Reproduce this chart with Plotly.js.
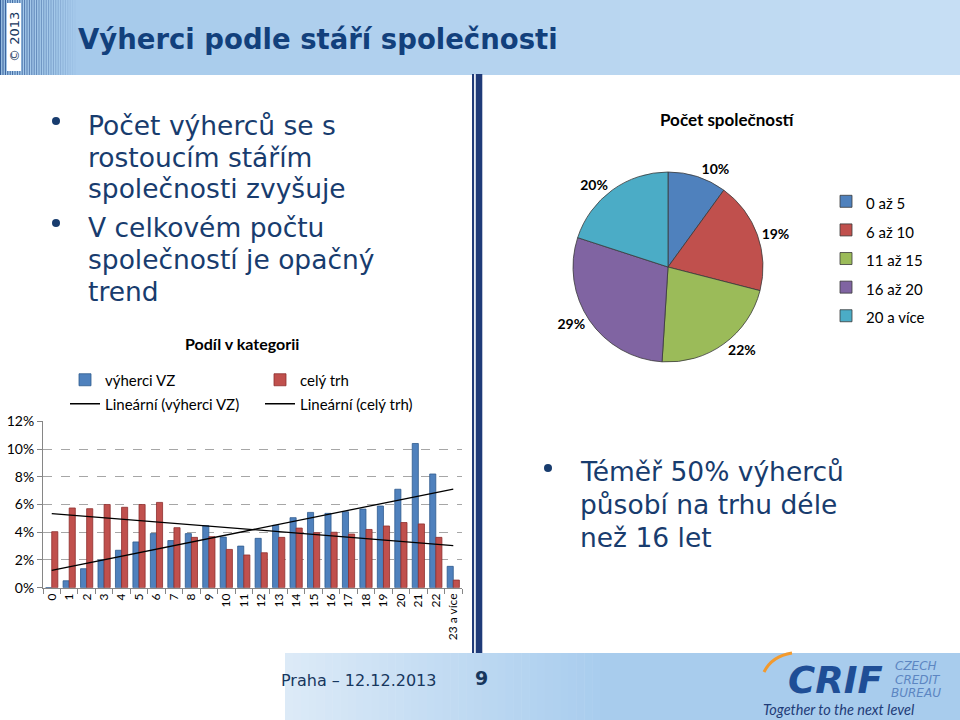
<!DOCTYPE html>
<html>
<head>
<meta charset="utf-8">
<script src="https://cdn.plot.ly/plotly-3.0.1.min.js"></script>
<style>
html,body{margin:0;padding:0;background:#fff;}
#chart{width:960px;height:720px;}
</style>
</head>
<body>
<div id="chart"></div>
<script>
// ---------- data ----------
const categories = ['0','1','2','3','4','5','6','7','8','9','10','11','12','13','14','15','16','17','18','19','20','21','22','23 a více'];
const winnersVZ = [0.000,0.005,0.0137,0.020,0.027,0.033,0.039,0.034,0.039,0.0447,0.0365,0.030,0.0356,0.045,0.0505,0.0543,0.0536,0.0548,0.0567,0.0589,0.071,0.104,0.082,0.0154];
const wholeMarket = [0.0404,0.0575,0.057,0.060,0.058,0.060,0.0615,0.0433,0.0363,0.0368,0.0276,0.0236,0.0252,0.0363,0.043,0.0397,0.040,0.0387,0.042,0.0445,0.047,0.046,0.0363,0.0055];
const barSeriesNames = ['výherci VZ','celý trh'];
const trendNames = ['Lineární (výherci VZ)','Lineární (celý trh)'];
const pieLabels = ['0 až 5','6 až 10','11 až 15','16 až 20','20 a více'];
const pieValues = [10,19,22,29,20];

// ---------- helpers ----------
const W = 960, H = 720;
const X = p => p / W;
const Y = p => 1 - p / H;
function hex2rgb(h){h=h.replace('#','');return [parseInt(h.substr(0,2),16),parseInt(h.substr(2,2),16),parseInt(h.substr(4,2),16)];}
function lerpColor(a,b,t){const A=hex2rgb(a),B=hex2rgb(b);return 'rgb('+A.map((v,i)=>Math.round(v+(B[i]-v)*t)).join(',')+')';}
function rect(x0,y0,x1,y1,color){return {type:'rect',xref:'paper',yref:'paper',x0:X(x0),x1:X(x1),y0:Y(y1),y1:Y(y0),fillcolor:color,line:{width:0},layer:'below'};}
function linearTrend(vals){
  const n=vals.length;let sx=0,sy=0,sxx=0,sxy=0;
  vals.forEach((v,i)=>{sx+=i;sy+=v;sxx+=i*i;sxy+=i*v;});
  const b=(n*sxy-sx*sy)/(n*sxx-sx*sx);const a=(sy-b*sx)/n;
  return vals.map((_,i)=>a+b*i);
}
function txt(text,x,y,size,opts){
  return Object.assign({text:text,x:X(x),y:Y(y),xref:'paper',yref:'paper',showarrow:false,
    xanchor:'left',yanchor:'middle',font:{family:'DejaVu Sans',size:size,color:'#183C6E'}},opts||{});
}

const navy = '#183C6E';
const shapes = [];
// header band gradient
const HN = 48;
for(let i=0;i<HN;i++){
  const x0=i*W/HN, x1=(i+1)*W/HN+0.5;
  shapes.push(rect(x0,0,x1,75,lerpColor('#A3C8EA','#C6DEF4',i/(HN-1))));
}
// left stripes in header
for(let x=0.6;x<76;x+=2.4){
  const a = Math.max(0,0.9*(1-x/78));
  shapes.push({type:'line',xref:'paper',yref:'paper',x0:X(x),x1:X(x),y0:Y(75),y1:Y(0),line:{color:'rgba(28,70,135,'+a.toFixed(3)+')',width:1},layer:'below'});
}
// copyright box
shapes.push(Object.assign(rect(7,3,21,71,'#FFFFFF'),{layer:'above'}));
// footer gradient
shapes.push(rect(0,653,285,720,'#FFFFFF'));
const FN = 40;
for(let i=0;i<FN;i++){
  const x0=285+i*(600-285)/FN, x1=285+(i+1)*(600-285)/FN+0.5;
  shapes.push(rect(x0,653,x1,720,lerpColor('#DCEAF7','#A9CDEE',i/(FN-1))));
}
shapes.push(rect(600,653,960,720,'#A8CCED'));
// vertical divider
shapes.push(rect(472,74,474.2,653,'#1F3A78'));
shapes.push(rect(474.2,74,475.8,653,'#E8EEF8'));
shapes.push(rect(475.8,74,482.3,653,'#1F3A78'));
// bullets
[[56,121],[56,223],[548,468]].forEach(([cx,cy])=>{
  shapes.push({type:'circle',xref:'paper',yref:'paper',x0:X(cx-4),x1:X(cx+4),y0:Y(cy+4),y1:Y(cy-4),fillcolor:navy,line:{width:0}});
});
// orange swoosh of logo
shapes.push({type:'path',xref:'paper',yref:'paper',
  path:'M '+X(764)+' '+Y(672)+' Q '+X(772)+' '+Y(656)+' '+X(792)+' '+Y(653),
  line:{color:'#F29A2E',width:3}});

// ---------- traces ----------
const traces = [
  {type:'bar',x:categories,y:winnersVZ,name:barSeriesNames[0],legend:'legend',
   marker:{color:'#4F81BD',line:{color:'#2F5A8E',width:0.8}},hoverinfo:'skip'},
  {type:'bar',x:categories,y:wholeMarket,name:barSeriesNames[1],legend:'legend',
   marker:{color:'#C0504D',line:{color:'#8E2F2D',width:0.8}},hoverinfo:'skip'},
  {type:'scatter',mode:'lines',x:categories,y:linearTrend(winnersVZ),name:trendNames[0],legend:'legend2',
   line:{color:'#000000',width:1.3},hoverinfo:'skip'},
  {type:'scatter',mode:'lines',x:categories,y:linearTrend(wholeMarket),name:trendNames[1],legend:'legend2',
   line:{color:'#000000',width:1.3},hoverinfo:'skip'},
  {type:'pie',labels:pieLabels.map(l=>'<span style="font-size:15px">'+l+'</span>'),values:pieValues,sort:false,direction:'clockwise',rotation:0,
   legend:'legend3',textposition:'outside',texttemplate:'%{percent:.0%}',
   textfont:{family:'Lato',size:14,color:'#000000',weight:'bold'},
   marker:{colors:['#4F81BD','#C0504D','#9BBB59','#8064A2','#4BACC6'],line:{color:'#3A3A3A',width:0.8}},
   domain:{x:[X(573),X(763)],y:[Y(362),Y(172)]},hoverinfo:'skip'}
];

const annotations = [
  txt('Výherci podle stáří společnosti',76,39,27.5,{font:{family:'DejaVu Sans',size:27.5,color:'#12407C',weight:'bold'}}),
  txt('© 2013',14,37,13,{xanchor:'center',textangle:-90,font:{family:'DejaVu Sans',size:13,color:'#17375E'}}),
  txt('Počet výherců se s',86,125,26.5),
  txt('rostoucím stářím',86,157,26.5),
  txt('společnosti zvyšuje',86,189,26.5),
  txt('V celkovém počtu',86,227,26.5),
  txt('společností je opačný',86,259,26.5),
  txt('trend',86,291,26.5),
  txt('Téměř 50% výherců',578,471,26.5),
  txt('působí na trhu déle',578,505,26.5),
  txt('než 16 let',578,537,26.5),
  txt('Podíl v kategorii',242,343,16,{xanchor:'center',font:{family:'Lato',size:16,color:'#000000',weight:'bold'}}),
  txt('Počet společností',727,120,17,{xanchor:'center',font:{family:'Lato',size:17,color:'#000000',weight:'bold'}}),
  txt('Praha – 12.12.2013',279,680,16,{font:{family:'DejaVu Sans',size:16,color:'#17375E'}}),
  txt('9',481,678,19,{xanchor:'center',font:{family:'DejaVu Sans',size:19,color:'#17375E',weight:'bold'}}),
  txt('CRIF',786,680,37,{font:{family:'DejaVu Sans',size:37,color:'#1F4E96',weight:'bold',style:'italic'}}),
  txt('CZECH',893,666,12,{font:{family:'DejaVu Sans',size:12,color:'#5C86C2',style:'italic'}}),
  txt('CREDIT',893,680,12,{font:{family:'DejaVu Sans',size:12,color:'#5C86C2',style:'italic'}}),
  txt('BUREAU',889,693,12,{font:{family:'DejaVu Sans',size:12,color:'#5C86C2',style:'italic'}}),
  txt('Together to the next level',761,709,14.5,{font:{family:'Lato',size:14.5,color:'#1F3C78',style:'italic'}})
];

const layout = {
  width:W,height:H,margin:{l:0,r:0,t:0,b:0},
  paper_bgcolor:'#FFFFFF',plot_bgcolor:'rgba(0,0,0,0)',
  font:{family:'Lato',color:'#000000'},
  barmode:'group',bargap:0.3,bargroupgap:0,
  xaxis:{domain:[X(43),X(462)],type:'category',tickangle:-90,ticks:'outside',tickson:'boundaries',
    ticklen:5,tickcolor:'#868686',showline:true,linecolor:'#868686',linewidth:1,showgrid:false,
    tickfont:{family:'Lato',size:12,color:'#000000'},fixedrange:true},
  yaxis:{domain:[Y(587.7),Y(421.3)],range:[0,0.12],dtick:0.02,tickformat:'.0%',ticks:'outside',ticklen:5,
    tickcolor:'#868686',showline:true,linecolor:'#868686',linewidth:1,showgrid:true,gridcolor:'#A6A6A6',
    griddash:'dash',gridwidth:1,zeroline:false,tickfont:{family:'Lato',size:14,color:'#000000'},fixedrange:true},
  legend:{orientation:'h',x:X(65),y:Y(380),xanchor:'left',yanchor:'middle',entrywidth:150,
    bgcolor:'rgba(0,0,0,0)',font:{family:'Lato',size:15,color:'#000000'}},
  legend2:{orientation:'h',x:X(65),y:Y(404),xanchor:'left',yanchor:'middle',entrywidth:150,
    bgcolor:'rgba(0,0,0,0)',font:{family:'Lato',size:15,color:'#000000'}},
  legend3:{orientation:'v',x:X(826),y:Y(182),xanchor:'left',yanchor:'top',
    bgcolor:'rgba(0,0,0,0)',font:{family:'Lato',size:19.7,color:'#000000'}},
  shapes:shapes,annotations:annotations
};

Plotly.newPlot('chart',traces,layout,{displayModeBar:false,staticPlot:true});
</script>
</body>
</html>
